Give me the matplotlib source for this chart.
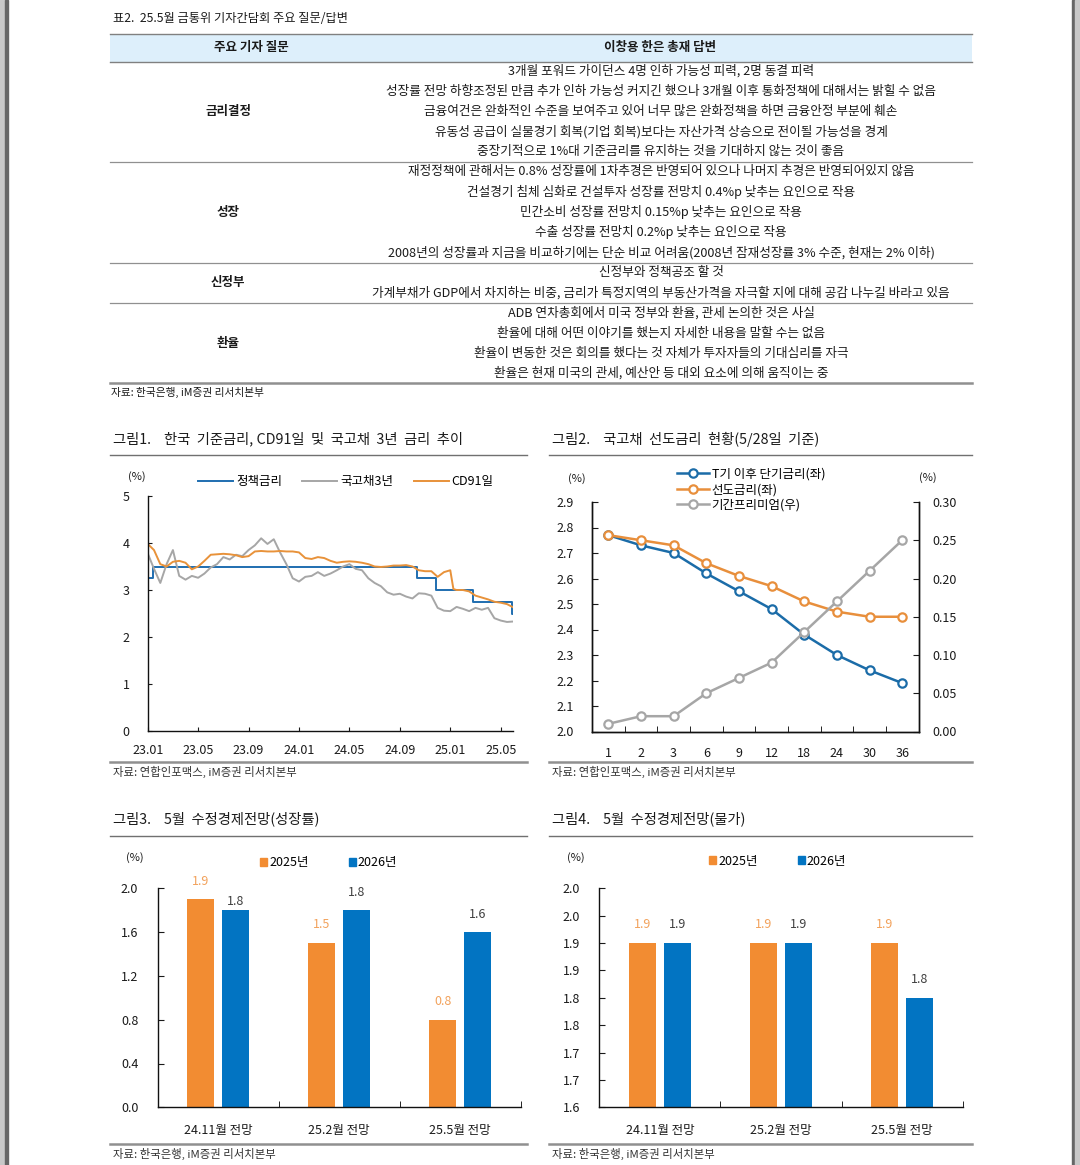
import numpy as np
import matplotlib.pyplot as plt
from matplotlib.patches import Patch, Rectangle
from matplotlib.lines import Line2D

plt.rcParams['font.family'] = ['Noto Sans CJK KR', 'DejaVu Sans']

# ---- table data ----
table_title = '표2.  25.5월 금통위 기자간담회 주요 질문/답변'
table_header = ['주요 기자 질문', '이창용 한은 총재 답변']
topics = ['금리결정', '성장', '신정부', '환율']
answers = [
    ['3개월 포워드 가이던스 4명 인하 가능성 피력, 2명 동결 피력',
     '성장률 전망 하향조정된 만큼 추가 인하 가능성 커지긴 했으나 3개월 이후 통화정책에 대해서는 밝힐 수 없음',
     '금융여건은 완화적인 수준을 보여주고 있어 너무 많은 완화정책을 하면 금융안정 부분에 훼손',
     '유동성 공급이 실물경기 회복(기업 회복)보다는 자산가격 상승으로 전이될 가능성을 경계',
     '중장기적으로 1%대 기준금리를 유지하는 것을 기대하지 않는 것이 좋음'],
    ['재정정책에 관해서는 0.8% 성장률에 1차추경은 반영되어 있으나 나머지 추경은 반영되어있지 않음',
     '건설경기 침체 심화로 건설투자 성장률 전망치 0.4%p 낮추는 요인으로 작용',
     '민간소비 성장률 전망치 0.15%p 낮추는 요인으로 작용',
     '수출 성장률 전망치 0.2%p 낮추는 요인으로 작용',
     '2008년의 성장률과 지금을 비교하기에는 단순 비교 어려움(2008년 잠재성장률 3% 수준, 현재는 2% 이하)'],
    ['신정부와 정책공조 할 것',
     '가계부채가 GDP에서 차지하는 비중, 금리가 특정지역의 부동산가격을 자극할 지에 대해 공감 나누길 바라고 있음'],
    ['ADB 연차총회에서 미국 정부와 환율, 관세 논의한 것은 사실',
     '환율에 대해 어떤 이야기를 했는지 자세한 내용을 말할 수는 없음',
     '환율이 변동한 것은 회의를 했다는 것 자체가 투자자들의 기대심리를 자극',
     '환율은 현재 미국의 관세, 예산안 등 대외 요소에 의해 움직이는 중'],
]
table_source = '자료: 한국은행, iM증권 리서치본부'

# ---- chart 1: months since 2023.01 ----
c1_title = '그림1.    한국  기준금리, CD91일  및  국고채  3년  금리  추이'
c1_xticklabels = ['23.01', '23.05', '23.09', '24.01', '24.05', '24.09', '25.01', '25.05']
policy_m = [0.0, 0.42, 21.35, 22.9, 25.8, 28.9, 29.0]
policy_rate = [3.25, 3.50, 3.25, 3.00, 2.75, 2.50, 2.50]
ktb_m = np.arange(0, 29.01, 0.5)
ktb3y = [3.78, 3.45, 3.15, 3.55, 3.85, 3.30, 3.22, 3.30, 3.26, 3.35,
         3.48, 3.55, 3.70, 3.65, 3.75, 3.72, 3.85, 3.95, 4.10, 3.98,
         4.08, 3.80, 3.55, 3.25, 3.18, 3.28, 3.30, 3.38, 3.30, 3.35,
         3.42, 3.50, 3.55, 3.45, 3.42, 3.25, 3.15, 3.08, 2.95, 2.90,
         2.92, 2.86, 2.82, 2.93, 2.92, 2.88, 2.62, 2.56, 2.55, 2.64,
         2.60, 2.55, 2.62, 2.58, 2.62, 2.40, 2.35, 2.32, 2.33]
cd_m = [0.0, 0.5, 1.0, 1.5, 2.0, 2.5, 3.0, 3.5, 4.0, 4.5, 5.0, 5.5, 6.0, 6.5,
        7.0, 7.5, 8.0, 8.5, 9.0, 9.5, 10.0, 10.5, 11.0, 11.5, 12.0, 12.5, 13.0,
        13.5, 14.0, 14.5, 15.0, 15.5, 16.0, 16.5, 17.0, 17.5, 18.0, 18.5, 19.0,
        19.5, 20.0, 20.5, 21.0, 21.5, 22.0, 22.5, 23.0, 23.5, 24.0, 24.25, 24.5,
        25.0, 25.5, 26.0, 26.5, 27.0, 27.5, 28.0, 28.5, 29.0]
cd91 = [3.98, 3.85, 3.55, 3.50, 3.60, 3.62, 3.58, 3.44, 3.50, 3.62, 3.75, 3.76,
        3.77, 3.76, 3.74, 3.70, 3.72, 3.82, 3.83, 3.82, 3.82, 3.83, 3.82, 3.82,
        3.80, 3.68, 3.66, 3.70, 3.68, 3.62, 3.58, 3.60, 3.61, 3.60, 3.58, 3.55,
        3.50, 3.49, 3.50, 3.52, 3.52, 3.53, 3.50, 3.42, 3.40, 3.40, 3.28, 3.38,
        3.42, 3.02, 3.00, 3.00, 2.97, 2.88, 2.84, 2.80, 2.75, 2.73, 2.70, 2.63]
c1_series = ['정책금리', '국고채3년', 'CD91일']
c1_source = '자료: 연합인포맥스, iM증권 리서치본부'

# ---- chart 2 ----
c2_title = '그림2.    국고채  선도금리  현황(5/28일  기준)'
c2_terms = ['1', '2', '3', '6', '9', '12', '18', '24', '30', '36']
short_rate = [2.77, 2.73, 2.70, 2.62, 2.55, 2.48, 2.38, 2.30, 2.24, 2.19]
forward_rate = [2.77, 2.75, 2.73, 2.66, 2.61, 2.57, 2.51, 2.47, 2.45, 2.45]
term_premium = [0.01, 0.02, 0.02, 0.05, 0.07, 0.09, 0.13, 0.17, 0.21, 0.25]
c2_series = ['T기 이후 단기금리(좌)', '선도금리(좌)', '기간프리미엄(우)']

# ---- charts 3 and 4 ----
forecasts = ['24.11월 전망', '25.2월 전망', '25.5월 전망']
years = ['2025년', '2026년']
growth_2025 = [1.9, 1.5, 0.8]
growth_2026 = [1.8, 1.8, 1.6]
cpi_2025 = [1.9, 1.9, 1.9]
cpi_2026 = [1.9, 1.9, 1.8]
c3_title = '그림3.    5월  수정경제전망(성장률)'
c4_title = '그림4.    5월  수정경제전망(물가)'
c4_yticks = [1.6, 1.65, 1.7, 1.75, 1.8, 1.85, 1.9, 1.95, 2.0]
c4_yticklabels = ['1.6', '1.7', '1.7', '1.8', '1.8', '1.9', '1.9', '2.0', '2.0']
c34_source = '자료: 한국은행, iM증권 리서치본부'

BLUE = '#0274C2'
ORANGE = '#F28C32'
GRAY = '#A6A6A6'
TXT = '#1a1a1a'

W, H = 1080, 1165
fig = plt.figure(figsize=(W / 100, H / 100), dpi=100)


def fx(x):
    return x / W


def fy(y):
    return 1 - y / H


def box(x0, y0, x1, y1):
    return fig.add_axes([x0 / W, 1 - y1 / H, (x1 - x0) / W, (y1 - y0) / H])


def hline(x0, x1, y, color, lw):
    fig.add_artist(Line2D([fx(x0), fx(x1)], [fy(y), fy(y)], color=color, lw=lw,
                          transform=fig.transFigure))


def ftext(x, y, s, **kw):
    kw.setdefault('va', 'center')
    kw.setdefault('color', TXT)
    fig.text(fx(x), fy(y), s, **kw)


# page edges
fig.add_artist(Rectangle((0, 0), fx(5), 1, transform=fig.transFigure, color='#C8C8C8'))
fig.add_artist(Rectangle((fx(5), 0), fx(2.5), 1, transform=fig.transFigure, color='#666666'))
fig.add_artist(Rectangle((fx(1072), 0), fx(3), 1, transform=fig.transFigure, color='#666666'))
fig.add_artist(Rectangle((fx(1075), 0), fx(5), 1, transform=fig.transFigure, color='#C8C8C8'))

# ---- table ----
ftext(113, 19, table_title, fontsize=8.8)
fig.add_artist(Rectangle((fx(110), fy(61.5)), fx(862), 27.5 / H, transform=fig.transFigure,
                         facecolor='#DDEFFB', edgecolor='none'))
hline(110, 972, 34, '#808080', 1.0)
hline(110, 972, 61.5, '#808080', 1.0)
ftext(251, 47.5, table_header[0], fontsize=9, fontweight='bold', ha='center')
ftext(660, 47.5, table_header[1], fontsize=9, fontweight='bold', ha='center')

k = 0
row_step = 20.15
for i, (topic, lines) in enumerate(zip(topics, answers)):
    ys = []
    for line in lines:
        y = 71 + row_step * k
        ys.append(y)
        ftext(661, y, line, fontsize=9.1, ha='center')
        k += 1
    ftext(228, np.mean(ys), topic, fontsize=9, fontweight='bold', ha='center')
    sep_y = ys[-1] + 10.2
    if i < len(topics) - 1:
        hline(110, 972, sep_y, '#909090', 0.9)
    else:
        hline(110, 972, sep_y, '#909090', 1.8)
ftext(111, 392, table_source, fontsize=7.7)

# ---- chart frames ----
for x0, x1, title, ty, ly, sy, src in [
        (110, 527, c1_title, 439, 455, 762, c1_source),
        (549, 972, c2_title, 439, 455, 762, c1_source),
        (110, 527, c3_title, 819, 836, 1144, c34_source),
        (549, 972, c4_title, 819, 836, 1144, c34_source)]:
    ftext(x0 + 3, ty, title, fontsize=10.3)
    hline(x0, x1, ly, '#707070', 1.0)
    hline(x0, x1, sy, '#909090', 1.8)
    ftext(x0 + 3, sy + 10, src, fontsize=8.2, color='#333333')


def style_axes(ax, right=False):
    ax.spines['top'].set_visible(False)
    if not right:
        ax.spines['right'].set_visible(False)
    for s in ax.spines.values():
        s.set_linewidth(1.0)
        s.set_color('#111111')
    ax.set_facecolor('none')


# ---- chart 1 ----
ax1 = box(147.7, 496, 513.3, 731)
style_axes(ax1)
l1, = ax1.plot(policy_m, policy_rate, drawstyle='steps-post', color='#1F6EB0', lw=1.4)
l2, = ax1.plot(ktb_m, ktb3y, color=GRAY, lw=1.4)
l3, = ax1.plot(cd_m, cd91, color='#E8923A', lw=1.4)
ax1.set_xlim(0, 29)
ax1.set_ylim(0, 5)
ax1.set_yticks(range(6))
ax1.set_xticks(np.arange(0, 29, 4))
ax1.set_xticklabels(c1_xticklabels)
ax1.tick_params(axis='both', direction='in', length=3, labelsize=9, colors=TXT)
ax1.tick_params(axis='y', pad=13)
ax1.tick_params(axis='x', pad=9)
ftext(137, 477, '(%)', fontsize=8, ha='center')
ax1.legend([l1, l2, l3], c1_series, loc='center', bbox_to_anchor=(fx(346), fy(481.5)),
           bbox_transform=fig.transFigure, ncol=3, frameon=False, fontsize=9,
           handlelength=2.8, handletextpad=0.25, columnspacing=1.6)

# ---- chart 2 ----
ax2 = box(592, 502, 918.5, 731.5)
style_axes(ax2, right=True)
x = np.arange(len(c2_terms))
mk = dict(marker='o', markerfacecolor='white', markersize=6, markeredgewidth=1.6, lw=1.8)
m1, = ax2.plot(x, short_rate, color='#1B6CA8', **mk)
m2, = ax2.plot(x, forward_rate, color='#E88F3C', **mk)
ax2.set_xlim(-0.5, len(c2_terms) - 0.5)
ax2.set_ylim(2.0, 2.9)
ax2.set_yticks(np.arange(2.0, 2.91, 0.1))
ax2.set_yticklabels([f'{v:.1f}' for v in np.arange(2.0, 2.91, 0.1)])
ax2.set_xticks(x)
ax2.set_xticklabels(c2_terms)
ax2.set_xticks(np.arange(0.5, len(c2_terms) - 1, 1.0), minor=True)
ax2.tick_params(axis='x', which='major', length=0, pad=11, labelsize=9, colors=TXT)
ax2.tick_params(axis='x', which='minor', direction='in', length=4)
ax2.tick_params(axis='y', direction='in', length=4, pad=13, labelsize=9, colors=TXT)
ax2r = ax2.twinx()
ax2r.spines['top'].set_visible(False)
for s in ax2r.spines.values():
    s.set_linewidth(1.0)
    s.set_color('#111111')
m3, = ax2r.plot(x, term_premium, color=GRAY, **mk)
ax2r.set_ylim(0, 0.30)
ax2r.set_yticks(np.arange(0, 0.301, 0.05))
ax2r.set_yticklabels([f'{v:.2f}' for v in np.arange(0, 0.301, 0.05)])
ax2r.tick_params(axis='y', direction='in', length=4, pad=10, labelsize=9, colors=TXT)
ftext(577, 479, '(%)', fontsize=8, ha='center')
ftext(928, 478, '(%)', fontsize=8, ha='center')
ax2r.legend([m1, m2, m3], c2_series, loc='upper left', bbox_to_anchor=(fx(668), fy(459)),
            bbox_transform=fig.transFigure, frameon=False, fontsize=9,
            handlelength=2.6, handletextpad=0.2, labelspacing=0.2, borderpad=0.2)


# ---- charts 3 and 4 ----
def bar_chart(ax, v25, v26, ylim, yticks, yticklabels, leg_center, offsets26):
    style_axes(ax)
    xs = np.arange(len(forecasts))
    w = 0.223
    ax.bar(xs - 0.143, v25, w, color=ORANGE, bottom=0)
    ax.bar(xs + 0.143, v26, w, color=BLUE)
    for xi, v in zip(xs, v25):
        ax.annotate(f'{v:.1f}', (xi - 0.143, v), xytext=(0, 13), textcoords='offset points',
                    ha='center', va='center', fontsize=9, color='#F2A25C')
    for xi, v, off in zip(xs, v26, offsets26):
        ax.annotate(f'{v:.1f}', (xi + 0.143, v), xytext=(0, off), textcoords='offset points',
                    ha='center', va='center', fontsize=9, color='#404040')
    ax.set_xlim(-0.5, len(forecasts) - 0.5)
    ax.set_ylim(*ylim)
    ax.set_yticks(yticks)
    ax.set_yticklabels(yticklabels)
    ax.set_xticks(xs)
    ax.set_xticklabels(forecasts)
    ax.set_xticks(np.arange(0.5, len(forecasts), 1.0), minor=True)
    ax.tick_params(axis='x', which='major', length=0, pad=12, labelsize=9, colors=TXT)
    ax.tick_params(axis='x', which='minor', direction='in', length=4)
    ax.tick_params(axis='y', direction='in', length=4, pad=14, labelsize=9, colors=TXT)
    ax.legend([Patch(color=ORANGE), Patch(color=BLUE)], years, loc='center',
              bbox_to_anchor=(fx(leg_center[0]), fy(leg_center[1])),
              bbox_transform=fig.transFigure, ncol=2, frameon=False, fontsize=9,
              handlelength=0.6, handleheight=0.6, handletextpad=0.15, columnspacing=3.2)


ax3 = box(157.7, 888.3, 520.7, 1107.3)
g_ticks = np.arange(0, 2.01, 0.4)
bar_chart(ax3, growth_2025, growth_2026, (0, 2.0), g_ticks, [f'{v:.1f}' for v in g_ticks],
          (328.5, 862.5), [6.5, 13, 13])
ftext(135, 858, '(%)', fontsize=8, ha='center')

ax4 = box(599.3, 888.3, 962.7, 1107.3)
bar_chart(ax4, cpi_2025, cpi_2026, (1.6, 2.0), c4_yticks, c4_yticklabels,
          (777.5, 861), [13, 13, 13])
ftext(576, 858, '(%)', fontsize=8, ha='center')

fig.savefig('out.png', dpi=100)
